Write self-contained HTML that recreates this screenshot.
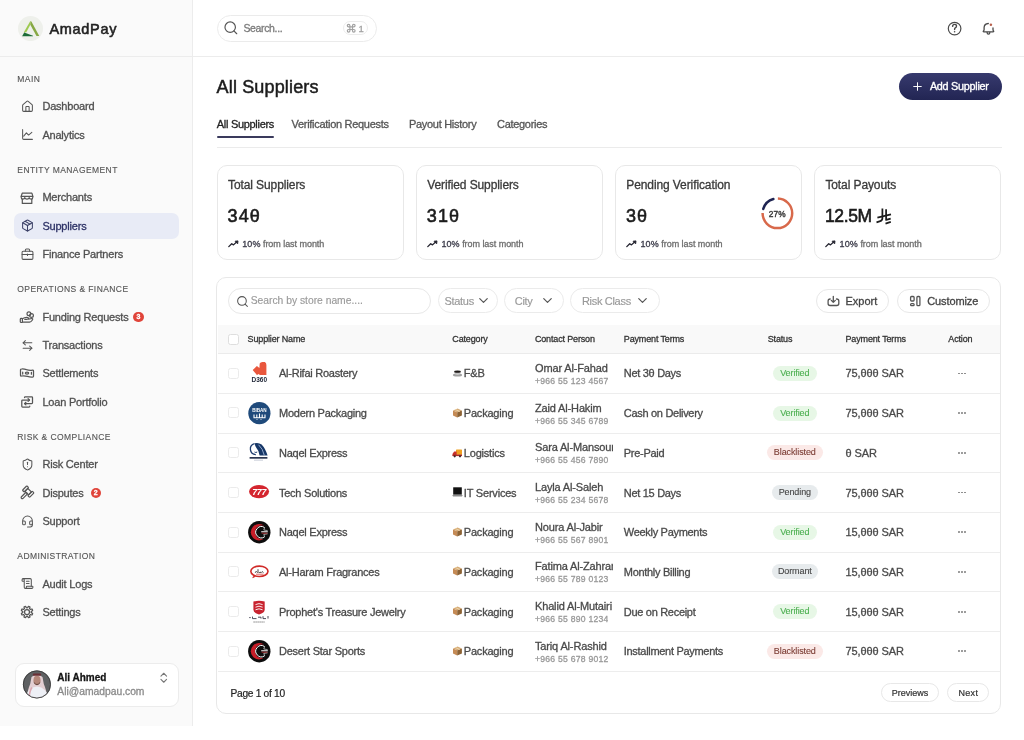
<!DOCTYPE html>
<html><head><meta charset="utf-8"><title>AmadPay - Suppliers</title>
<style>
html,body{margin:0;padding:0;width:1024px;height:740px;overflow:hidden;background:#fff;}
body{position:relative;font-family:"Liberation Sans", sans-serif;-webkit-font-smoothing:antialiased;}
#root div{-webkit-text-stroke-width:0.3px;}
</style></head><body><div id="root" style="position:absolute;left:0;top:0;width:1024px;height:740px;will-change:transform">
<div style="position:absolute;left:0px;top:0px;width:193px;height:726px;box-sizing:border-box;background:#fafafa;border-right:1px solid #ececec"></div><div style="position:absolute;left:0px;top:56px;width:1024px;height:1px;box-sizing:border-box;background:#ececec"></div><svg style="position:absolute;left:18px;top:15.5px" width="25" height="25" viewBox="0 0 25 25"><circle cx="12.5" cy="12.6" r="12.5" fill="#eef0eb"/><polygon points="12.2,5.2 13.4,5.6 21.3,20.1 18.5,20.1 12.3,8.8" fill="#86a843"/><polygon points="12.2,5.2 12.3,8.8 8.3,16.2 5.7,16.6" fill="#9dc94f"/><polygon points="4.1,20.2 6.2,16.4 15,19.8 15,20.2" fill="#1b6b36"/></svg><div style="position:absolute;left:49.4px;top:14.60px;font-size:14.5px;line-height:29.0px;font-weight:400;color:#222;letter-spacing:0.7px;white-space:nowrap;-webkit-text-stroke:0.55px #222;">AmadPay</div><div style="position:absolute;left:17.3px;top:70.80px;font-size:8.5px;line-height:17.0px;font-weight:400;color:#555;letter-spacing:0.42px;white-space:nowrap;-webkit-text-stroke-width:0.12px;">MAIN</div><svg style="position:absolute;left:20.5px;top:100.0px" width="13" height="13" viewBox="0 0 24 24" fill="none" stroke="#555" stroke-width="1.9" stroke-linecap="round" stroke-linejoin="round" ><path d="M15 21v-8a1 1 0 0 0-1-1h-4a1 1 0 0 0-1 1v8"/><path d="M3 10a2 2 0 0 1 .709-1.528l7-5.999a2 2 0 0 1 2.582 0l7 5.999A2 2 0 0 1 21 10v9a2 2 0 0 1-2 2H5a2 2 0 0 1-2-2z"/></svg><div style="position:absolute;left:42.4px;top:95.20px;font-size:11px;line-height:22px;font-weight:400;color:#505050;letter-spacing:-0.2px;white-space:nowrap;">Dashboard</div><svg style="position:absolute;left:20.5px;top:128.3px" width="13" height="13" viewBox="0 0 24 24" fill="none" stroke="#555" stroke-width="1.9" stroke-linecap="round" stroke-linejoin="round" ><path d="M3 3v16a2 2 0 0 0 2 2h16"/><path d="m5 15 5-6 4 4 6-5"/></svg><div style="position:absolute;left:42.4px;top:123.50px;font-size:11px;line-height:22px;font-weight:400;color:#505050;letter-spacing:-0.2px;white-space:nowrap;">Analytics</div><div style="position:absolute;left:17.3px;top:161.80px;font-size:8.5px;line-height:17.0px;font-weight:400;color:#555;letter-spacing:0.42px;white-space:nowrap;-webkit-text-stroke-width:0.12px;">ENTITY MANAGEMENT</div><svg style="position:absolute;left:17px;top:187.80px" width="20" height="20" viewBox="0 0 20 20" fill="none" stroke="#555" stroke-width="1.2" stroke-linejoin="round" stroke-linecap="round"><path d="M5.2 5.2H14.9L15.8 8.2V9.2Q15.8 11.2 14.2 11.2Q12.5 11.2 12.2 9.6Q11.8 11.2 10 11.2Q8.2 11.2 7.8 9.6Q7.5 11.2 5.8 11.2Q4.2 11.2 4.2 9.2V8.2Z"/><path d="M4.2 8.3H15.8"/><path d="M5.3 11V15.4H14.8V11"/></svg><div style="position:absolute;left:42.4px;top:186.30px;font-size:11px;line-height:22px;font-weight:400;color:#505050;letter-spacing:-0.2px;white-space:nowrap;">Merchants</div><div style="position:absolute;left:14px;top:212.9px;width:165px;height:26px;box-sizing:border-box;background:#e8ebf6;border-radius:7px"></div><svg style="position:absolute;left:20.5px;top:219.4px" width="13" height="13" viewBox="0 0 24 24" fill="none" stroke="#3a3f66" stroke-width="1.9" stroke-linecap="round" stroke-linejoin="round" ><path d="M11 21.73a2 2 0 0 0 2 0l7-4A2 2 0 0 0 21 16V8a2 2 0 0 0-1-1.73l-7-4a2 2 0 0 0-2 0l-7 4A2 2 0 0 0 3 8v8a2 2 0 0 0 1 1.73z"/><path d="M12 22V12"/><path d="m3.3 7 8.7 5 8.7-5"/><path d="m7.5 4.27 9 5.15"/></svg><div style="position:absolute;left:42.4px;top:214.60px;font-size:11px;line-height:22px;font-weight:400;color:#2d3266;letter-spacing:-0.2px;white-space:nowrap;">Suppliers</div><svg style="position:absolute;left:20.5px;top:247.8px" width="13" height="13" viewBox="0 0 24 24" fill="none" stroke="#555" stroke-width="1.9" stroke-linecap="round" stroke-linejoin="round" ><path d="M16 6V4a2 2 0 0 0-2-2h-4a2 2 0 0 0-2 2v2"/><rect width="20" height="15" x="2" y="6" rx="2"/><path d="M2 12h20"/><path d="M12 11v3"/></svg><div style="position:absolute;left:42.4px;top:243.00px;font-size:11px;line-height:22px;font-weight:400;color:#505050;letter-spacing:-0.2px;white-space:nowrap;">Finance Partners</div><div style="position:absolute;left:17.3px;top:281.00px;font-size:8.5px;line-height:17.0px;font-weight:400;color:#555;letter-spacing:0.42px;white-space:nowrap;-webkit-text-stroke-width:0.12px;">OPERATIONS &amp; FINANCE</div><svg style="position:absolute;left:17px;top:307.70px" width="20" height="20" viewBox="0 0 20 20" fill="none" stroke="#555" stroke-width="1.2" stroke-linejoin="round" stroke-linecap="round"><circle cx="11.9" cy="5.8" r="1.9"/><circle cx="14.5" cy="7.5" r="1.9"/><rect x="3.3" y="10.4" width="2.1" height="4.1" rx="0.8"/><path d="M5.4 10.8Q7.5 9.2 10 9.3Q11.5 9.4 11.6 10.4Q11.4 11.4 9.5 11.4H7.8"/><path d="M5.4 14.2H12.5Q14 14 15.4 12Q16.2 10.8 15 10.5L11.6 11.2"/></svg><div style="position:absolute;left:42.4px;top:305.70px;font-size:11px;line-height:22px;font-weight:400;color:#505050;letter-spacing:-0.2px;white-space:nowrap;">Funding Requests</div><div style="position:absolute;left:133.15px;top:311.75px;width:10.5px;height:10.5px;border-radius:50%;background:#e0443a;color:#fff;font-size:7px;line-height:10.5px;text-align:center;font-weight:700">3</div><svg style="position:absolute;left:20.5px;top:338.7px" width="13" height="13" viewBox="0 0 24 24" fill="none" stroke="#555" stroke-width="1.9" stroke-linecap="round" stroke-linejoin="round" ><path d="M8 3 4 7l4 4"/><path d="M4 7h16"/><path d="m16 21 4-4-4-4"/><path d="M20 17H4"/></svg><div style="position:absolute;left:42.4px;top:333.90px;font-size:11px;line-height:22px;font-weight:400;color:#505050;letter-spacing:-0.2px;white-space:nowrap;">Transactions</div><svg style="position:absolute;left:17px;top:363.30px" width="20" height="20" viewBox="0 0 20 20" fill="none" stroke="#555" stroke-width="1.25" stroke-linejoin="round" stroke-linecap="round"><path d="M3.5 6.8Q3.5 6 4.5 6Q7 5.8 9.5 6.7Q12.5 7.6 15.5 7.1Q16.5 7 16.5 7.9V13.2Q16.5 14 15.5 14.1Q13 14.3 10.5 13.4Q7.5 12.5 4.5 13Q3.5 13.1 3.5 12.3Z"/><ellipse cx="10" cy="10.1" rx="1.7" ry="1.1"/><path d="M5.7 9.2V11.1M14.4 9.3V11.2"/></svg><div style="position:absolute;left:42.4px;top:362.30px;font-size:11px;line-height:22px;font-weight:400;color:#505050;letter-spacing:-0.2px;white-space:nowrap;">Settlements</div><svg style="position:absolute;left:17px;top:392.00px" width="20" height="20" viewBox="0 0 20 20" fill="none" stroke="#555" stroke-width="1.25" stroke-linejoin="round" stroke-linecap="round"><path d="M7.5 5.6Q7.5 4.8 8.3 4.8H14.7Q15.5 4.8 15.5 5.6V10.8Q15.5 11.6 14.7 11.6H7.6"/><path d="M12.8 14.2Q12.8 15 12 15H5.6Q4.8 15 4.8 14.2V8.8Q4.8 8 5.6 8H12.4"/><path d="M11.1 6.7L12.5 8L11.1 9.3M8.9 10.3L7.5 11.6L8.9 12.9"/></svg><div style="position:absolute;left:42.4px;top:390.70px;font-size:11px;line-height:22px;font-weight:400;color:#505050;letter-spacing:-0.2px;white-space:nowrap;">Loan Portfolio</div><div style="position:absolute;left:17.3px;top:428.70px;font-size:8.5px;line-height:17.0px;font-weight:400;color:#555;letter-spacing:0.42px;white-space:nowrap;-webkit-text-stroke-width:0.12px;">RISK &amp; COMPLIANCE</div><svg style="position:absolute;left:20.5px;top:458.1px" width="13" height="13" viewBox="0 0 24 24" fill="none" stroke="#555" stroke-width="1.9" stroke-linecap="round" stroke-linejoin="round" ><path d="M20 13c0 5-3.5 7.5-7.66 8.95a1 1 0 0 1-.67-.01C7.5 20.5 4 18 4 13V6a1 1 0 0 1 1-1c2 0 4.5-1.2 6.24-2.72a1.17 1.17 0 0 1 1.52 0C14.51 3.81 17 5 19 5a1 1 0 0 1 1 1z"/><path d="M12 8v4"/><path d="M12 16h.01"/></svg><div style="position:absolute;left:42.4px;top:453.30px;font-size:11px;line-height:22px;font-weight:400;color:#505050;letter-spacing:-0.2px;white-space:nowrap;">Risk Center</div><svg style="position:absolute;left:17px;top:483.00px" width="20" height="20" viewBox="0 0 20 20" fill="none" stroke="#555" stroke-width="1.2" stroke-linejoin="round"><g transform="translate(11.2 8.6) rotate(45)"><rect x="-5.05" y="-3.15" width="2.5" height="6.3" rx="0.7"/><rect x="2.55" y="-3.15" width="2.5" height="6.3" rx="0.7"/><path d="M-2.55 -2H2.55V2H-2.55Z"/><rect x="-1.1" y="2" width="2.2" height="7.5" rx="1.1"/></g></svg><div style="position:absolute;left:42.4px;top:481.70px;font-size:11px;line-height:22px;font-weight:400;color:#505050;letter-spacing:-0.2px;white-space:nowrap;">Disputes</div><div style="position:absolute;left:90.55px;top:487.75px;width:10.5px;height:10.5px;border-radius:50%;background:#e0443a;color:#fff;font-size:7px;line-height:10.5px;text-align:center;font-weight:700">2</div><svg style="position:absolute;left:20.5px;top:514.8px" width="13" height="13" viewBox="0 0 24 24" fill="none" stroke="#555" stroke-width="1.9" stroke-linecap="round" stroke-linejoin="round" ><path d="M3 11h3a2 2 0 0 1 2 2v3a2 2 0 0 1-2 2H5a2 2 0 0 1-2-2v-5Zm0 0a9 9 0 1 1 18 0m0 0v5a2 2 0 0 1-2 2h-1a2 2 0 0 1-2-2v-3a2 2 0 0 1 2-2h3Z"/><path d="M21 16v2a4 4 0 0 1-4 4h-5"/></svg><div style="position:absolute;left:42.4px;top:510.00px;font-size:11px;line-height:22px;font-weight:400;color:#505050;letter-spacing:-0.2px;white-space:nowrap;">Support</div><div style="position:absolute;left:17.3px;top:547.90px;font-size:8.5px;line-height:17.0px;font-weight:400;color:#555;letter-spacing:0.42px;white-space:nowrap;-webkit-text-stroke-width:0.12px;">ADMINISTRATION</div><svg style="position:absolute;left:20.5px;top:577.3px" width="13" height="13" viewBox="0 0 24 24" fill="none" stroke="#555" stroke-width="1.9" stroke-linecap="round" stroke-linejoin="round" ><path d="M15 12h-5"/><path d="M15 8h-5"/><path d="M19 17V5a2 2 0 0 0-2-2H4"/><path d="M8 21h12a2 2 0 0 0 2-2v-1a1 1 0 0 0-1-1H11a1 1 0 0 0-1 1v1a2 2 0 1 1-4 0V5a2 2 0 1 0-4 0v2a1 1 0 0 0 1 1h3"/></svg><div style="position:absolute;left:42.4px;top:572.50px;font-size:11px;line-height:22px;font-weight:400;color:#505050;letter-spacing:-0.2px;white-space:nowrap;">Audit Logs</div><svg style="position:absolute;left:17px;top:601.90px" width="20" height="20" viewBox="0 0 20 20" fill="none" stroke="#555" stroke-width="1.25" stroke-linejoin="round"><path d="M10.00 5.75L10.13 5.75L10.27 5.76L10.40 5.76L10.54 5.75L10.69 5.64L10.91 5.21L11.20 4.62L11.44 4.41L11.63 4.40L11.81 4.44L11.98 4.50L12.15 4.56L12.32 4.63L12.49 4.71L12.65 4.79L12.81 4.89L12.94 5.03L12.95 5.35L12.74 5.97L12.59 6.43L12.63 6.61L12.71 6.72L12.81 6.81L12.91 6.90L13.01 6.99L13.10 7.09L13.19 7.19L13.28 7.29L13.39 7.37L13.57 7.41L14.03 7.26L14.65 7.05L14.97 7.06L15.11 7.19L15.21 7.35L15.29 7.51L15.37 7.68L15.44 7.85L15.50 8.02L15.56 8.19L15.60 8.37L15.59 8.56L15.38 8.80L14.79 9.09L14.36 9.31L14.25 9.46L14.24 9.60L14.24 9.73L14.25 9.87L14.25 10.00L14.25 10.13L14.24 10.27L14.24 10.40L14.25 10.54L14.36 10.69L14.79 10.91L15.38 11.20L15.59 11.44L15.60 11.63L15.56 11.81L15.50 11.98L15.44 12.15L15.37 12.32L15.29 12.49L15.21 12.65L15.11 12.81L14.97 12.94L14.65 12.95L14.03 12.74L13.57 12.59L13.39 12.63L13.28 12.71L13.19 12.81L13.10 12.91L13.01 13.01L12.91 13.10L12.81 13.19L12.71 13.28L12.63 13.39L12.59 13.57L12.74 14.03L12.95 14.65L12.94 14.97L12.81 15.11L12.65 15.21L12.49 15.29L12.32 15.37L12.15 15.44L11.98 15.50L11.81 15.56L11.63 15.60L11.44 15.59L11.20 15.38L10.91 14.79L10.69 14.36L10.54 14.25L10.40 14.24L10.27 14.24L10.13 14.25L10.00 14.25L9.87 14.25L9.73 14.24L9.60 14.24L9.46 14.25L9.31 14.36L9.09 14.79L8.80 15.38L8.56 15.59L8.37 15.60L8.19 15.56L8.02 15.50L7.85 15.44L7.68 15.37L7.51 15.29L7.35 15.21L7.19 15.11L7.06 14.97L7.05 14.65L7.26 14.03L7.41 13.57L7.37 13.39L7.29 13.28L7.19 13.19L7.09 13.10L6.99 13.01L6.90 12.91L6.81 12.81L6.72 12.71L6.61 12.63L6.43 12.59L5.97 12.74L5.35 12.95L5.03 12.94L4.89 12.81L4.79 12.65L4.71 12.49L4.63 12.32L4.56 12.15L4.50 11.98L4.44 11.81L4.40 11.63L4.41 11.44L4.62 11.20L5.21 10.91L5.64 10.69L5.75 10.54L5.76 10.40L5.76 10.27L5.75 10.13L5.75 10.00L5.75 9.87L5.76 9.73L5.76 9.60L5.75 9.46L5.64 9.31L5.21 9.09L4.62 8.80L4.41 8.56L4.40 8.37L4.44 8.19L4.50 8.02L4.56 7.85L4.63 7.68L4.71 7.51L4.79 7.35L4.89 7.19L5.03 7.06L5.35 7.05L5.97 7.26L6.43 7.41L6.61 7.37L6.72 7.29L6.81 7.19L6.90 7.09L6.99 6.99L7.09 6.90L7.19 6.81L7.29 6.72L7.37 6.61L7.41 6.43L7.26 5.97L7.05 5.35L7.06 5.03L7.19 4.89L7.35 4.79L7.51 4.71L7.68 4.63L7.85 4.56L8.02 4.50L8.19 4.44L8.37 4.40L8.56 4.41L8.80 4.62L9.09 5.21L9.31 5.64L9.46 5.75L9.60 5.76L9.73 5.76L9.87 5.75Z"/><circle cx="10" cy="10" r="2.5"/></svg><div style="position:absolute;left:42.4px;top:601.00px;font-size:11px;line-height:22px;font-weight:400;color:#505050;letter-spacing:-0.2px;white-space:nowrap;">Settings</div><div style="position:absolute;left:14.5px;top:662.5px;width:164px;height:44.5px;box-sizing:border-box;background:#fff;border:1px solid #ececec;border-radius:9px"></div><svg style="position:absolute;left:20px;top:668px" width="34" height="34" viewBox="0 0 34 34"><defs><clipPath id="av"><circle cx="16.9" cy="16.45" r="13.6"/></clipPath></defs><circle cx="16.9" cy="16.45" r="13.9" fill="#5f6163"/><g clip-path="url(#av)"><path d="M11.5 9Q17 4 22.5 9L23.8 16Q26 21 28 31L6 31Q8 21 10.2 16Z" fill="#e3cfd3"/><path d="M5 33Q6.5 19.5 17 18.5Q27.5 19.5 29 33Z" fill="#eef0f6"/><path d="M12 19.5Q9.5 23 9 30" stroke="#dba9b2" stroke-width="1.6" fill="none"/><ellipse cx="17" cy="12.2" rx="3.5" ry="4.4" fill="#b4877a"/><path d="M13.6 13.5Q17 18.5 20.4 13.5Q20 16.8 17 17.2Q14 16.8 13.6 13.5Z" fill="#6e4d45"/><rect x="12.8" y="5.6" width="8.4" height="2.2" rx="1.1" fill="#6a2f35"/></g><circle cx="16.9" cy="16.45" r="13.6" fill="none" stroke="#3b3b3b" stroke-width="0.9"/></svg><div style="position:absolute;left:57.3px;top:667.50px;font-size:10px;line-height:20px;font-weight:700;color:#151515;letter-spacing:0px;white-space:nowrap;">Ali Ahmed</div><div style="position:absolute;left:57.3px;top:681.90px;font-size:10.3px;line-height:20.6px;font-weight:400;color:#8a8a8a;letter-spacing:0px;white-space:nowrap;">Ali@amadpau.com</div><svg style="position:absolute;left:157.4px;top:671.3px" width="13.5" height="13.5" viewBox="0 0 24 24" fill="none" stroke="#777" stroke-width="1.9" stroke-linecap="round" stroke-linejoin="round" ><path d="m7 15 5 5 5-5"/><path d="m7 9 5-5 5 5"/></svg><div style="position:absolute;left:216.5px;top:15px;width:160.5px;height:27px;box-sizing:border-box;border:1px solid #ebebeb;border-radius:14px;background:#fff"></div><svg style="position:absolute;left:223.1px;top:20.3px" width="15.7" height="15.7" viewBox="0 0 24 24" fill="none" stroke="#555" stroke-width="1.8" stroke-linecap="round" stroke-linejoin="round" ><circle cx="11" cy="11" r="8"/><path d="m21 21-4.3-4.3"/></svg><div style="position:absolute;left:243.4px;top:18.00px;font-size:10.5px;line-height:21.0px;font-weight:400;color:#7a7a7a;letter-spacing:-0.35px;white-space:nowrap;">Search...</div><div style="position:absolute;left:343px;top:21.4px;width:24.5px;height:13.8px;box-sizing:border-box;border:1px solid #ececec;border-radius:7px;background:#fff"></div><svg style="position:absolute;left:345.9px;top:22.9px" width="10.4" height="10.4" viewBox="0 0 24 24" fill="none" stroke="#a2a2a2" stroke-width="2.7" stroke-linecap="round" stroke-linejoin="round"><path d="M15 6v12a3 3 0 1 0 3-3H6a3 3 0 1 0 3 3V6a3 3 0 1 0-3 3h12a3 3 0 1 0-3-3"/></svg><div style="position:absolute;left:358.6px;top:19.40px;font-size:9.5px;line-height:19.0px;font-weight:400;color:#a2a2a2;letter-spacing:0px;white-space:nowrap;">1</div><svg style="position:absolute;left:944px;top:18px" width="22" height="22" viewBox="944 18 22 22" fill="none" stroke="#4a4a4a" stroke-width="1.2" stroke-linecap="round" stroke-linejoin="round"><circle cx="954.6" cy="28.6" r="6.3"/><path d="M952.6 26.4Q952.7 24.4 954.6 24.4Q956.5 24.4 956.5 26.1Q956.5 27.3 955.3 27.9Q954.6 28.3 954.6 29.5" stroke-width="1.4"/><circle cx="954.6" cy="31.7" r="0.8" fill="#4a4a4a" stroke="none"/></svg><svg style="position:absolute;left:978px;top:18px" width="22" height="22" viewBox="0 0 22 22" fill="none" stroke="#4a4a4a" stroke-width="1.3" stroke-linecap="round" stroke-linejoin="round"><path d="M10.3 5.5Q6.3 5.7 6.1 9.5V11.4Q6.1 12.5 5.3 13.2Q5 13.8 5.8 13.8H15.1Q15.9 13.8 15.7 13.2Q15 12.5 15 11.4V10"/><path d="M9.1 14.4Q9.1 16.1 10.45 16.1Q11.8 16.1 11.8 14.4"/><circle cx="12.9" cy="6.7" r="1.25" fill="#b8604c" stroke="none"/></svg><div style="position:absolute;left:216.6px;top:69.00px;font-size:18px;line-height:36px;font-weight:400;color:#1c1c1c;letter-spacing:0.15px;white-space:nowrap;-webkit-text-stroke:0.5px #1c1c1c;">All Suppliers</div><div style="position:absolute;left:899.2px;top:73.2px;width:103px;height:26.7px;box-sizing:border-box;background:linear-gradient(#373a6e,#222553);border-radius:14px"></div><svg style="position:absolute;left:910.5px;top:80.2px" width="13" height="13" viewBox="0 0 24 24" fill="none" stroke="#fff" stroke-width="1.8" stroke-linecap="round" stroke-linejoin="round" ><path d="M5 12h14"/><path d="M12 5v14"/></svg><div style="position:absolute;left:929.9px;top:76.00px;font-size:10.8px;line-height:21.6px;font-weight:400;color:#ffffff;letter-spacing:-0.25px;white-space:nowrap;-webkit-text-stroke:0.35px #ffffff;">Add Supplier</div><div style="position:absolute;left:216.8px;top:112.60px;font-size:11px;line-height:22px;font-weight:400;color:#222;letter-spacing:-0.3px;white-space:nowrap;">All Suppliers</div><div style="position:absolute;left:291.6px;top:112.60px;font-size:11px;line-height:22px;font-weight:400;color:#555;letter-spacing:-0.3px;white-space:nowrap;">Verification Requests</div><div style="position:absolute;left:409px;top:112.60px;font-size:11px;line-height:22px;font-weight:400;color:#555;letter-spacing:-0.3px;white-space:nowrap;">Payout History</div><div style="position:absolute;left:497px;top:112.60px;font-size:11px;line-height:22px;font-weight:400;color:#555;letter-spacing:-0.3px;white-space:nowrap;">Categories</div><div style="position:absolute;left:216.8px;top:135.7px;width:57px;height:2px;box-sizing:border-box;background:#3a3a5c;border-radius:1px"></div><div style="position:absolute;left:216.5px;top:147px;width:785.5px;height:1px;box-sizing:border-box;background:#ebebeb"></div><div style="position:absolute;left:216.6px;top:165.2px;width:187.2px;height:95.3px;box-sizing:border-box;border:1px solid #e8e8e8;border-radius:10px;background:#fff"></div><div style="position:absolute;left:228.0px;top:173.00px;font-size:12px;line-height:24px;font-weight:400;color:#3a3a3a;letter-spacing:-0.1px;white-space:nowrap;">Total Suppliers</div><div style="position:absolute;left:227.6px;top:198.00px;font-size:18px;line-height:36px;font-weight:400;color:#1c1c1c;letter-spacing:1.1px;white-space:nowrap;-webkit-text-stroke:0.6px #1c1c1c;">34&#952;</div><svg style="position:absolute;left:227.80px;top:238px" width="12" height="10" viewBox="0 0 12 10" fill="none" stroke="#22222e" stroke-width="1.3" stroke-linecap="round" stroke-linejoin="round"><path d="M0.8 8.6L3.7 5.7L5.5 6.9L8.6 4"/><path d="M7.4 3.2L10 2.9L9.7 5.5Z" fill="#22222e" stroke-width="0.9"/></svg><div style="position:absolute;left:242.2px;top:235.00px;font-size:9px;line-height:18px;font-weight:400;color:#444;letter-spacing:-0.05px;white-space:nowrap;"><span style="color:#3a3a48;-webkit-text-stroke:0.3px #3a3a48;letter-spacing:0.1px">10%</span> <span style="color:#6e6e6e">from last month</span></div><div style="position:absolute;left:415.8px;top:165.2px;width:187.2px;height:95.3px;box-sizing:border-box;border:1px solid #e8e8e8;border-radius:10px;background:#fff"></div><div style="position:absolute;left:427.2px;top:173.00px;font-size:12px;line-height:24px;font-weight:400;color:#3a3a3a;letter-spacing:-0.1px;white-space:nowrap;">Verified Suppliers</div><div style="position:absolute;left:426.8px;top:198.00px;font-size:18px;line-height:36px;font-weight:400;color:#1c1c1c;letter-spacing:1.1px;white-space:nowrap;-webkit-text-stroke:0.6px #1c1c1c;">31&#952;</div><svg style="position:absolute;left:427.00px;top:238px" width="12" height="10" viewBox="0 0 12 10" fill="none" stroke="#22222e" stroke-width="1.3" stroke-linecap="round" stroke-linejoin="round"><path d="M0.8 8.6L3.7 5.7L5.5 6.9L8.6 4"/><path d="M7.4 3.2L10 2.9L9.7 5.5Z" fill="#22222e" stroke-width="0.9"/></svg><div style="position:absolute;left:441.40000000000003px;top:235.00px;font-size:9px;line-height:18px;font-weight:400;color:#444;letter-spacing:-0.05px;white-space:nowrap;"><span style="color:#3a3a48;-webkit-text-stroke:0.3px #3a3a48;letter-spacing:0.1px">10%</span> <span style="color:#6e6e6e">from last month</span></div><div style="position:absolute;left:614.9px;top:165.2px;width:187.2px;height:95.3px;box-sizing:border-box;border:1px solid #e8e8e8;border-radius:10px;background:#fff"></div><div style="position:absolute;left:626.3px;top:173.00px;font-size:12px;line-height:24px;font-weight:400;color:#3a3a3a;letter-spacing:-0.1px;white-space:nowrap;">Pending Verification</div><div style="position:absolute;left:625.9px;top:198.00px;font-size:18px;line-height:36px;font-weight:400;color:#1c1c1c;letter-spacing:1.1px;white-space:nowrap;-webkit-text-stroke:0.6px #1c1c1c;">3&#952;</div><svg style="position:absolute;left:626.10px;top:238px" width="12" height="10" viewBox="0 0 12 10" fill="none" stroke="#22222e" stroke-width="1.3" stroke-linecap="round" stroke-linejoin="round"><path d="M0.8 8.6L3.7 5.7L5.5 6.9L8.6 4"/><path d="M7.4 3.2L10 2.9L9.7 5.5Z" fill="#22222e" stroke-width="0.9"/></svg><div style="position:absolute;left:640.5px;top:235.00px;font-size:9px;line-height:18px;font-weight:400;color:#444;letter-spacing:-0.05px;white-space:nowrap;"><span style="color:#3a3a48;-webkit-text-stroke:0.3px #3a3a48;letter-spacing:0.1px">10%</span> <span style="color:#6e6e6e">from last month</span></div><div style="position:absolute;left:814px;top:165.2px;width:187.2px;height:95.3px;box-sizing:border-box;border:1px solid #e8e8e8;border-radius:10px;background:#fff"></div><div style="position:absolute;left:825.4px;top:173.00px;font-size:12px;line-height:24px;font-weight:400;color:#3a3a3a;letter-spacing:-0.1px;white-space:nowrap;">Total Payouts</div><div style="position:absolute;left:825.0px;top:198.50px;font-size:17.5px;line-height:35.0px;font-weight:400;color:#1c1c1c;letter-spacing:-0.4px;white-space:nowrap;-webkit-text-stroke:0.6px #1c1c1c;">12.5M</div><svg style="position:absolute;left:825.20px;top:238px" width="12" height="10" viewBox="0 0 12 10" fill="none" stroke="#22222e" stroke-width="1.3" stroke-linecap="round" stroke-linejoin="round"><path d="M0.8 8.6L3.7 5.7L5.5 6.9L8.6 4"/><path d="M7.4 3.2L10 2.9L9.7 5.5Z" fill="#22222e" stroke-width="0.9"/></svg><div style="position:absolute;left:839.6px;top:235.00px;font-size:9px;line-height:18px;font-weight:400;color:#444;letter-spacing:-0.05px;white-space:nowrap;"><span style="color:#3a3a48;-webkit-text-stroke:0.3px #3a3a48;letter-spacing:0.1px">10%</span> <span style="color:#6e6e6e">from last month</span></div><svg style="position:absolute;left:760px;top:196px" width="35" height="35" viewBox="0 0 35 35"><circle cx="17.4" cy="17.3" r="14.8" fill="none" stroke="#d8694b" stroke-width="2.5" stroke-dasharray="69.2 200" stroke-dashoffset="-0.5" transform="rotate(-90 17.4 17.3)"/><circle cx="17.4" cy="17.3" r="14.8" fill="none" stroke="#1f2452" stroke-width="2.5" stroke-linecap="round" stroke-dasharray="14.6 200" stroke-dashoffset="-73.7" transform="rotate(-90 17.4 17.3)"/></svg><div style="position:absolute;left:768.8px;top:205.70px;font-size:8.3px;line-height:16.6px;font-weight:400;color:#3a3a3a;letter-spacing:0.15px;white-space:nowrap;-webkit-text-stroke:0.4px #3a3a3a;">27%</div><svg style="position:absolute;left:872px;top:204px" width="24" height="24" viewBox="0 0 24 24" fill="none" stroke="#1c1c1c" stroke-width="1.75" stroke-linecap="butt" stroke-linejoin="round"><path d="M10.4 4.4V14.2Q10.4 16.4 8.2 17.1L4.5 18.3"/><path d="M5.4 13.6L19 10.4"/><path d="M14.1 5.2V15.9L18.7 14.6"/><path d="M13.5 19.6L18.8 17.9"/></svg><div style="position:absolute;left:216.2px;top:277.2px;width:784.8px;height:436.6px;box-sizing:border-box;border:1px solid #e8e8e8;border-radius:10px;background:#fff"></div><div style="position:absolute;left:228px;top:288.4px;width:203px;height:25.3px;box-sizing:border-box;border:1px solid #e8e8e8;border-radius:13px"></div><svg style="position:absolute;left:236px;top:294.5px" width="13" height="13" viewBox="0 0 24 24" fill="none" stroke="#555" stroke-width="1.9" stroke-linecap="round" stroke-linejoin="round" ><circle cx="11" cy="11" r="8"/><path d="m21 21-4.3-4.3"/></svg><div style="position:absolute;left:250.7px;top:290.70px;font-size:10.3px;line-height:20.6px;font-weight:400;color:#9a9a9a;letter-spacing:0px;white-space:nowrap;-webkit-text-stroke-width:0.15px;">Search by store name....</div><div style="position:absolute;left:437.5px;top:288.2px;width:60px;height:25.1px;box-sizing:border-box;border:1px solid #ebebeb;border-radius:13px"></div><div style="position:absolute;left:444.5px;top:290.00px;font-size:11px;line-height:22px;font-weight:400;color:#999;letter-spacing:-0.3px;white-space:nowrap;-webkit-text-stroke-width:0.15px;">Status</div><svg style="position:absolute;left:476.09999999999997px;top:293.3px" width="15" height="15" viewBox="0 0 24 24" fill="none" stroke="#555" stroke-width="1.9" stroke-linecap="round" stroke-linejoin="round" ><path d="m6 9 6 6 6-6"/></svg><div style="position:absolute;left:503.8px;top:288.2px;width:60.5px;height:25.1px;box-sizing:border-box;border:1px solid #ebebeb;border-radius:13px"></div><div style="position:absolute;left:514.8px;top:290.00px;font-size:11px;line-height:22px;font-weight:400;color:#999;letter-spacing:-0.3px;white-space:nowrap;-webkit-text-stroke-width:0.15px;">City</div><svg style="position:absolute;left:540.1px;top:293.3px" width="15" height="15" viewBox="0 0 24 24" fill="none" stroke="#555" stroke-width="1.9" stroke-linecap="round" stroke-linejoin="round" ><path d="m6 9 6 6 6-6"/></svg><div style="position:absolute;left:570.1px;top:288.2px;width:90px;height:25.1px;box-sizing:border-box;border:1px solid #ebebeb;border-radius:13px"></div><div style="position:absolute;left:581.9px;top:290.00px;font-size:11px;line-height:22px;font-weight:400;color:#999;letter-spacing:-0.3px;white-space:nowrap;-webkit-text-stroke-width:0.15px;">Risk Class</div><svg style="position:absolute;left:635.4px;top:293.3px" width="15" height="15" viewBox="0 0 24 24" fill="none" stroke="#555" stroke-width="1.9" stroke-linecap="round" stroke-linejoin="round" ><path d="m6 9 6 6 6-6"/></svg><div style="position:absolute;left:816px;top:288.6px;width:72.6px;height:24.6px;box-sizing:border-box;border:1px solid #e8e8e8;border-radius:13px"></div><svg style="position:absolute;left:822px;top:290px" width="24" height="22" viewBox="0 0 24 22" fill="none" stroke="#555" stroke-width="1.3" stroke-linecap="round" stroke-linejoin="round"><path d="M8.2 9Q6.1 9 6.1 11V13.5Q6.1 15.5 8.1 15.5H14.8Q16.8 15.5 16.8 13.5V11Q16.8 9 14.5 9"/><path d="M11.3 6.3V12.3M9.3 10.4L11.3 12.4L13.3 10.4"/></svg><div style="position:absolute;left:845.5px;top:290.00px;font-size:11px;line-height:22px;font-weight:400;color:#444;letter-spacing:0px;white-space:nowrap;">Export</div><div style="position:absolute;left:897.4px;top:288.6px;width:92.3px;height:24.6px;box-sizing:border-box;border:1px solid #e8e8e8;border-radius:13px"></div><svg style="position:absolute;left:904px;top:290px" width="24" height="22" viewBox="0 0 24 22" fill="none" stroke="#555" stroke-width="1.3" stroke-linecap="round" stroke-linejoin="round"><rect x="6.6" y="6.5" width="3.5" height="4.5" rx="0.9"/><rect x="6.6" y="13.6" width="3.5" height="2" rx="0.9"/><rect x="12.9" y="6.5" width="3" height="9.1" rx="0.9"/></svg><div style="position:absolute;left:927.2px;top:290.00px;font-size:11px;line-height:22px;font-weight:400;color:#444;letter-spacing:-0.1px;white-space:nowrap;">Customize</div><div style="position:absolute;left:217.7px;top:325.4px;width:782.3px;height:28.2px;box-sizing:border-box;background:#f9f9f9;border-bottom:1px solid #ebebeb"></div><div style="position:absolute;left:228px;top:334px;width:11px;height:11px;box-sizing:border-box;border:1px solid #dedede;border-radius:2.5px;background:#fff"></div><div style="position:absolute;left:247.6px;top:330.20px;font-size:9px;line-height:18px;font-weight:400;color:#333;letter-spacing:-0.15px;white-space:nowrap;-webkit-text-stroke:0.28px #333;">Supplier Name</div><div style="position:absolute;left:452.3px;top:330.20px;font-size:9px;line-height:18px;font-weight:400;color:#333;letter-spacing:-0.15px;white-space:nowrap;-webkit-text-stroke:0.28px #333;">Category</div><div style="position:absolute;left:534.9px;top:330.20px;font-size:9px;line-height:18px;font-weight:400;color:#333;letter-spacing:-0.15px;white-space:nowrap;-webkit-text-stroke:0.28px #333;">Contact Person</div><div style="position:absolute;left:623.8px;top:330.20px;font-size:9px;line-height:18px;font-weight:400;color:#333;letter-spacing:-0.15px;white-space:nowrap;-webkit-text-stroke:0.28px #333;">Payment Terms</div><div style="position:absolute;left:767.7px;top:330.20px;font-size:9px;line-height:18px;font-weight:400;color:#333;letter-spacing:-0.15px;white-space:nowrap;-webkit-text-stroke:0.28px #333;">Status</div><div style="position:absolute;left:845.5px;top:330.20px;font-size:9px;line-height:18px;font-weight:400;color:#333;letter-spacing:-0.15px;white-space:nowrap;-webkit-text-stroke:0.28px #333;">Payment Terms</div><div style="position:absolute;left:948.3px;top:330.20px;font-size:9px;line-height:18px;font-weight:400;color:#333;letter-spacing:-0.15px;white-space:nowrap;-webkit-text-stroke:0.28px #333;">Action</div><div style="position:absolute;left:217.7px;top:392.90000000000003px;width:782.3px;height:1px;box-sizing:border-box;background:#ededed"></div><div style="position:absolute;left:227.5px;top:367.75000000000006px;width:11px;height:11px;box-sizing:border-box;border:1px solid #ebebeb;border-radius:2.5px;background:#fff"></div><svg style="position:absolute;left:247.6px;top:361.45000000000005px" width="23" height="24" viewBox="0 0 23 24"><path d="M4.7 9.05L8.9 5.05L11.4 7.05L11.7 2.55Q12.4 1.05 14.4 1.05L16.9 1.05Q18.4 2.05 18.4 4.05L18.4 14.05L11.7 14.05L10.9 13.05L8.9 14.05Z" fill="#e9573d"/><text x="11.3" y="21.1" font-family="Liberation Sans" font-weight="700" font-size="6.5" fill="#232a3a" text-anchor="middle" letter-spacing="0">D360</text></svg><div style="position:absolute;left:279px;top:362.45px;font-size:11px;line-height:22px;font-weight:400;color:#4a4a4a;letter-spacing:-0.25px;white-space:nowrap;">Al-Rifai Roastery</div><svg style="position:absolute;left:451.5px;top:369.25px" width="11" height="8" viewBox="0 0 11 8"><ellipse cx="5.5" cy="5.9" rx="4.6" ry="1.5" fill="#a0a0a0"/><path d="M2.2 2.8H8.8Q8.8 6 5.5 6.1Q2.2 6 2.2 2.8Z" fill="#c4c4c4"/><ellipse cx="5.5" cy="2.7" rx="3.3" ry="1.1" fill="#1e1a18"/></svg><div style="position:absolute;left:463.8px;top:362.45px;font-size:11px;line-height:22px;font-weight:400;color:#4a4a4a;letter-spacing:-0.2px;white-space:nowrap;">F&amp;B</div><div style="position:absolute;left:535px;top:356.95px;font-size:11px;line-height:22px;font-weight:400;color:#4a4a4a;letter-spacing:-0.15px;white-space:nowrap;width:78px;overflow:hidden">Omar Al-Fahad</div><div style="position:absolute;left:535px;top:372.85px;font-size:8.6px;line-height:17.2px;font-weight:400;color:#999;letter-spacing:0.25px;white-space:nowrap;width:73px;overflow:hidden">+966 55 123 4567</div><div style="position:absolute;left:623.8px;top:362.45px;font-size:11px;line-height:22px;font-weight:400;color:#4a4a4a;letter-spacing:-0.3px;white-space:nowrap;">Net 3&#952; Days</div><div style="position:absolute;left:773.05px;top:365.95000000000005px;width:43.5px;height:15px;border-radius:8px;background:#e7f7e6;color:#4caf50;font-size:9px;line-height:15px;text-align:center;letter-spacing:-0.1px;-webkit-text-stroke-width:0.1px">Verified</div><div style="position:absolute;left:845.5px;top:362.45px;font-size:11px;line-height:22px;font-weight:400;color:#4a4a4a;letter-spacing:-0.1px;white-space:nowrap;">75,&#952;&#952;&#952; SAR</div><div style="position:absolute;left:958.40px;top:372.55px;width:1.8px;height:1.8px;border-radius:50%;background:#808080"></div><div style="position:absolute;left:961.30px;top:372.55px;width:1.8px;height:1.8px;border-radius:50%;background:#808080"></div><div style="position:absolute;left:964.20px;top:372.55px;width:1.8px;height:1.8px;border-radius:50%;background:#808080"></div><div style="position:absolute;left:217.7px;top:432.6px;width:782.3px;height:1px;box-sizing:border-box;background:#ededed"></div><div style="position:absolute;left:227.5px;top:407.45000000000005px;width:11px;height:11px;box-sizing:border-box;border:1px solid #ebebeb;border-radius:2.5px;background:#fff"></div><svg style="position:absolute;left:247.6px;top:401.85px" width="23" height="23" viewBox="0 0 23 23"><circle cx="11.4" cy="11.2" r="11.1" fill="#1f4a7b"/><text x="11.4" y="9.6" font-family="Liberation Sans" font-weight="700" font-size="4.6" fill="#fff" text-anchor="middle">BIBAN</text><path d="M6 12.5v3.2h11v-3.2M8.8 12.5v3.2M11.5 11.5v4.2M14.2 12.5v3.2" stroke="#fff" stroke-width="1.1" fill="none"/><circle cx="9" cy="17.5" r="0.5" fill="#fff"/><circle cx="13" cy="17.5" r="0.5" fill="#fff"/></svg><div style="position:absolute;left:279px;top:402.15px;font-size:11px;line-height:22px;font-weight:400;color:#4a4a4a;letter-spacing:-0.25px;white-space:nowrap;">Modern Packaging</div><svg style="position:absolute;left:451.5px;top:407.55px" width="11" height="10" viewBox="0 0 11 10"><path d="M1 2.5L5.2 4.3V9.4L1 7.6Z" fill="#c48a55"/><path d="M5.2 4.3L9.9 2.5V7.6L5.2 9.4Z" fill="#8c6234"/><path d="M1 2.5L5.6 0.6L9.9 2.5L5.2 4.3Z" fill="#d6ab76"/><path d="M3.2 1.5L7.7 3.4" stroke="#efd9b0" stroke-width="0.9"/></svg><div style="position:absolute;left:463.8px;top:402.15px;font-size:11px;line-height:22px;font-weight:400;color:#4a4a4a;letter-spacing:-0.2px;white-space:nowrap;">Packaging</div><div style="position:absolute;left:535px;top:396.65px;font-size:11px;line-height:22px;font-weight:400;color:#4a4a4a;letter-spacing:-0.15px;white-space:nowrap;width:78px;overflow:hidden">Zaid Al-Hakim</div><div style="position:absolute;left:535px;top:412.55px;font-size:8.6px;line-height:17.2px;font-weight:400;color:#999;letter-spacing:0.25px;white-space:nowrap;width:73px;overflow:hidden">+966 55 345 6789</div><div style="position:absolute;left:623.8px;top:402.15px;font-size:11px;line-height:22px;font-weight:400;color:#4a4a4a;letter-spacing:-0.3px;white-space:nowrap;">Cash on Delivery</div><div style="position:absolute;left:773.05px;top:405.65000000000003px;width:43.5px;height:15px;border-radius:8px;background:#e7f7e6;color:#4caf50;font-size:9px;line-height:15px;text-align:center;letter-spacing:-0.1px;-webkit-text-stroke-width:0.1px">Verified</div><div style="position:absolute;left:845.5px;top:402.15px;font-size:11px;line-height:22px;font-weight:400;color:#4a4a4a;letter-spacing:-0.1px;white-space:nowrap;">75,&#952;&#952;&#952; SAR</div><div style="position:absolute;left:958.40px;top:412.25px;width:1.8px;height:1.8px;border-radius:50%;background:#808080"></div><div style="position:absolute;left:961.30px;top:412.25px;width:1.8px;height:1.8px;border-radius:50%;background:#808080"></div><div style="position:absolute;left:964.20px;top:412.25px;width:1.8px;height:1.8px;border-radius:50%;background:#808080"></div><div style="position:absolute;left:217.7px;top:472.3px;width:782.3px;height:1px;box-sizing:border-box;background:#ededed"></div><div style="position:absolute;left:227.5px;top:447.15000000000003px;width:11px;height:11px;box-sizing:border-box;border:1px solid #ebebeb;border-radius:2.5px;background:#fff"></div><svg style="position:absolute;left:246.00px;top:440.00px" width="26" height="22" viewBox="0 0 26 22"><path d="M8.5 3.6A5.6 5.6 0 0 0 9.8 14.6" stroke="#1d3b6e" stroke-width="1.3" fill="none"/><path d="M8.6 3.2Q12.5 2.2 15.6 4.4Q19.6 8.5 21.6 15.6H13.6Q13 10.5 10.6 8.2Q9.2 6.8 8.6 3.2Z" fill="#173767"/><path d="M12.6 4.8Q16.8 8.5 18.4 15.6" stroke="#9fb6da" stroke-width="0.9" fill="none"/><path d="M8.5 12Q9.8 13 11.2 12" stroke="#1d3b6e" stroke-width="1" fill="none"/><rect x="3.6" y="17" width="17.8" height="1.7" fill="#2a3550"/><rect x="8" y="19.8" width="9" height="0.6" fill="#a8afc0"/></svg><div style="position:absolute;left:279px;top:441.85px;font-size:11px;line-height:22px;font-weight:400;color:#4a4a4a;letter-spacing:-0.25px;white-space:nowrap;">Naqel Express</div><svg style="position:absolute;left:451.5px;top:448.55px" width="11" height="9" viewBox="0 0 11 9"><rect x="4" y="0.4" width="6" height="5.4" rx="0.6" fill="#f0a020"/><path d="M0.6 4.8L2.2 2.5H4.6V7H0.6Z" fill="#c8302a"/><rect x="0.6" y="5.5" width="9.4" height="1.6" fill="#b02a24"/><circle cx="2.7" cy="7.3" r="1.1" fill="#3a2a2a"/><circle cx="8" cy="7.3" r="1.1" fill="#3a2a2a"/></svg><div style="position:absolute;left:463.8px;top:441.85px;font-size:11px;line-height:22px;font-weight:400;color:#4a4a4a;letter-spacing:-0.2px;white-space:nowrap;">Logistics</div><div style="position:absolute;left:535px;top:436.35px;font-size:11px;line-height:22px;font-weight:400;color:#4a4a4a;letter-spacing:-0.15px;white-space:nowrap;width:78px;overflow:hidden">Sara Al-Mansour</div><div style="position:absolute;left:535px;top:452.25px;font-size:8.6px;line-height:17.2px;font-weight:400;color:#999;letter-spacing:0.25px;white-space:nowrap;width:73px;overflow:hidden">+966 55 456 7890</div><div style="position:absolute;left:623.8px;top:441.85px;font-size:11px;line-height:22px;font-weight:400;color:#4a4a4a;letter-spacing:-0.3px;white-space:nowrap;">Pre-Paid</div><div style="position:absolute;left:766.8px;top:445.35px;width:56px;height:15px;border-radius:8px;background:#fbe9e7;color:#7a3b32;font-size:9px;line-height:15px;text-align:center;letter-spacing:-0.1px;-webkit-text-stroke-width:0.1px">Blacklisted</div><div style="position:absolute;left:845.5px;top:441.85px;font-size:11px;line-height:22px;font-weight:400;color:#4a4a4a;letter-spacing:-0.1px;white-space:nowrap;">&#952; SAR</div><div style="position:absolute;left:958.40px;top:451.95px;width:1.8px;height:1.8px;border-radius:50%;background:#808080"></div><div style="position:absolute;left:961.30px;top:451.95px;width:1.8px;height:1.8px;border-radius:50%;background:#808080"></div><div style="position:absolute;left:964.20px;top:451.95px;width:1.8px;height:1.8px;border-radius:50%;background:#808080"></div><div style="position:absolute;left:217.7px;top:512.0000000000001px;width:782.3px;height:1px;box-sizing:border-box;background:#ededed"></div><div style="position:absolute;left:227.5px;top:486.8500000000001px;width:11px;height:11px;box-sizing:border-box;border:1px solid #ebebeb;border-radius:2.5px;background:#fff"></div><svg style="position:absolute;left:247.6px;top:485.25000000000006px" width="22" height="14" viewBox="0 0 22 14"><ellipse cx="11.05" cy="6.6" rx="10.05" ry="6.6" fill="#d4262f"/><text x="11.2" y="9.9" font-family="Liberation Sans" font-weight="700" font-size="8.8" fill="#fff" text-anchor="middle" font-style="italic" letter-spacing="-0.2">777</text></svg><div style="position:absolute;left:279px;top:481.55px;font-size:11px;line-height:22px;font-weight:400;color:#4a4a4a;letter-spacing:-0.25px;white-space:nowrap;">Tech Solutions</div><svg style="position:absolute;left:451.5px;top:486.95px" width="11" height="10" viewBox="0 0 11 10"><rect x="1.2" y="0.3" width="8.6" height="6.8" fill="#111"/><rect x="1.2" y="7.1" width="8.6" height="1" fill="#555"/><path d="M0.3 8.1H10.7L10 9.4H1Z" fill="#8a8a8a"/></svg><div style="position:absolute;left:463.8px;top:481.55px;font-size:11px;line-height:22px;font-weight:400;color:#4a4a4a;letter-spacing:-0.2px;white-space:nowrap;">IT Services</div><div style="position:absolute;left:535px;top:476.05px;font-size:11px;line-height:22px;font-weight:400;color:#4a4a4a;letter-spacing:-0.15px;white-space:nowrap;width:78px;overflow:hidden">Layla Al-Saleh</div><div style="position:absolute;left:535px;top:491.95px;font-size:8.6px;line-height:17.2px;font-weight:400;color:#999;letter-spacing:0.25px;white-space:nowrap;width:73px;overflow:hidden">+966 55 234 5678</div><div style="position:absolute;left:623.8px;top:481.55px;font-size:11px;line-height:22px;font-weight:400;color:#4a4a4a;letter-spacing:-0.3px;white-space:nowrap;">Net 15 Days</div><div style="position:absolute;left:771.8px;top:485.05000000000007px;width:46px;height:15px;border-radius:8px;background:#e7ebed;color:#444;font-size:9px;line-height:15px;text-align:center;letter-spacing:-0.1px;-webkit-text-stroke-width:0.1px">Pending</div><div style="position:absolute;left:845.5px;top:481.55px;font-size:11px;line-height:22px;font-weight:400;color:#4a4a4a;letter-spacing:-0.1px;white-space:nowrap;">75,&#952;&#952;&#952; SAR</div><div style="position:absolute;left:958.40px;top:491.65px;width:1.8px;height:1.8px;border-radius:50%;background:#808080"></div><div style="position:absolute;left:961.30px;top:491.65px;width:1.8px;height:1.8px;border-radius:50%;background:#808080"></div><div style="position:absolute;left:964.20px;top:491.65px;width:1.8px;height:1.8px;border-radius:50%;background:#808080"></div><div style="position:absolute;left:217.7px;top:551.7000000000002px;width:782.3px;height:1px;box-sizing:border-box;background:#ededed"></div><div style="position:absolute;left:227.5px;top:526.5500000000001px;width:11px;height:11px;box-sizing:border-box;border:1px solid #ebebeb;border-radius:2.5px;background:#fff"></div><svg style="position:absolute;left:247.6px;top:521.2500000000001px" width="23" height="23" viewBox="0 0 23 23"><circle cx="11.3" cy="11.2" r="11.2" fill="#0d0d0d"/><circle cx="11" cy="11.2" r="8.2" fill="#c81e28"/><circle cx="14.2" cy="11.2" r="7" fill="#0d0d0d"/><path d="M16.6 6.6 A5.6 5.6 0 1 0 16.6 15.8" stroke="#fff" stroke-width="1" fill="none"/><path d="M16.6 6.6 L15.8 9 L19.6 9.6 M16.6 15.8 L15.8 13.4 L19.6 12.8" stroke="#fff" stroke-width="0.6" fill="none"/><rect x="13.2" y="10.2" width="6.6" height="1.1" fill="#e8e8e8"/><rect x="13.6" y="11.8" width="5.8" height="0.7" fill="#d03030"/></svg><div style="position:absolute;left:279px;top:521.25px;font-size:11px;line-height:22px;font-weight:400;color:#4a4a4a;letter-spacing:-0.25px;white-space:nowrap;">Naqel Express</div><svg style="position:absolute;left:451.5px;top:526.65px" width="11" height="10" viewBox="0 0 11 10"><path d="M1 2.5L5.2 4.3V9.4L1 7.6Z" fill="#c48a55"/><path d="M5.2 4.3L9.9 2.5V7.6L5.2 9.4Z" fill="#8c6234"/><path d="M1 2.5L5.6 0.6L9.9 2.5L5.2 4.3Z" fill="#d6ab76"/><path d="M3.2 1.5L7.7 3.4" stroke="#efd9b0" stroke-width="0.9"/></svg><div style="position:absolute;left:463.8px;top:521.25px;font-size:11px;line-height:22px;font-weight:400;color:#4a4a4a;letter-spacing:-0.2px;white-space:nowrap;">Packaging</div><div style="position:absolute;left:535px;top:515.75px;font-size:11px;line-height:22px;font-weight:400;color:#4a4a4a;letter-spacing:-0.15px;white-space:nowrap;width:78px;overflow:hidden">Noura Al-Jabir</div><div style="position:absolute;left:535px;top:531.65px;font-size:8.6px;line-height:17.2px;font-weight:400;color:#999;letter-spacing:0.25px;white-space:nowrap;width:73px;overflow:hidden">+966 55 567 8901</div><div style="position:absolute;left:623.8px;top:521.25px;font-size:11px;line-height:22px;font-weight:400;color:#4a4a4a;letter-spacing:-0.3px;white-space:nowrap;">Weekly Payments</div><div style="position:absolute;left:773.05px;top:524.7500000000001px;width:43.5px;height:15px;border-radius:8px;background:#e7f7e6;color:#4caf50;font-size:9px;line-height:15px;text-align:center;letter-spacing:-0.1px;-webkit-text-stroke-width:0.1px">Verified</div><div style="position:absolute;left:845.5px;top:521.25px;font-size:11px;line-height:22px;font-weight:400;color:#4a4a4a;letter-spacing:-0.1px;white-space:nowrap;">15,&#952;&#952;&#952; SAR</div><div style="position:absolute;left:958.40px;top:531.35px;width:1.8px;height:1.8px;border-radius:50%;background:#808080"></div><div style="position:absolute;left:961.30px;top:531.35px;width:1.8px;height:1.8px;border-radius:50%;background:#808080"></div><div style="position:absolute;left:964.20px;top:531.35px;width:1.8px;height:1.8px;border-radius:50%;background:#808080"></div><div style="position:absolute;left:217.7px;top:591.4000000000001px;width:782.3px;height:1px;box-sizing:border-box;background:#ededed"></div><div style="position:absolute;left:227.5px;top:566.25px;width:11px;height:11px;box-sizing:border-box;border:1px solid #ebebeb;border-radius:2.5px;background:#fff"></div><svg style="position:absolute;left:247.6px;top:565.35px" width="23" height="14" viewBox="0 0 23 14"><ellipse cx="11.4" cy="6.3" rx="8.6" ry="5.2" fill="#fff" stroke="#d02a28" stroke-width="1.6"/><path d="M5.5 11 Q4 12.5 4.5 13.2 Q7 12 8 11.2" fill="#d02a28"/><path d="M7.2 7.8 Q8 5 9.3 7.5 M10 8 V4.2 M11.3 8 Q12 6 13 7.8 Q14 5.5 15.5 7.6" stroke="#3a2f2f" stroke-width="0.9" fill="none"/><path d="M8 9.2 H15.5" stroke="#d02a28" stroke-width="0.7"/></svg><div style="position:absolute;left:279px;top:560.95px;font-size:11px;line-height:22px;font-weight:400;color:#4a4a4a;letter-spacing:-0.25px;white-space:nowrap;">Al-Haram Fragrances</div><svg style="position:absolute;left:451.5px;top:566.35px" width="11" height="10" viewBox="0 0 11 10"><path d="M1 2.5L5.2 4.3V9.4L1 7.6Z" fill="#c48a55"/><path d="M5.2 4.3L9.9 2.5V7.6L5.2 9.4Z" fill="#8c6234"/><path d="M1 2.5L5.6 0.6L9.9 2.5L5.2 4.3Z" fill="#d6ab76"/><path d="M3.2 1.5L7.7 3.4" stroke="#efd9b0" stroke-width="0.9"/></svg><div style="position:absolute;left:463.8px;top:560.95px;font-size:11px;line-height:22px;font-weight:400;color:#4a4a4a;letter-spacing:-0.2px;white-space:nowrap;">Packaging</div><div style="position:absolute;left:535px;top:555.45px;font-size:11px;line-height:22px;font-weight:400;color:#4a4a4a;letter-spacing:-0.15px;white-space:nowrap;width:78px;overflow:hidden">Fatima Al-Zahrani</div><div style="position:absolute;left:535px;top:571.35px;font-size:8.6px;line-height:17.2px;font-weight:400;color:#999;letter-spacing:0.25px;white-space:nowrap;width:73px;overflow:hidden">+966 55 789 0123</div><div style="position:absolute;left:623.8px;top:560.95px;font-size:11px;line-height:22px;font-weight:400;color:#4a4a4a;letter-spacing:-0.3px;white-space:nowrap;">Monthly Billing</div><div style="position:absolute;left:771.8px;top:564.45px;width:46px;height:15px;border-radius:8px;background:#e7ebed;color:#444;font-size:9px;line-height:15px;text-align:center;letter-spacing:-0.1px;-webkit-text-stroke-width:0.1px">Dormant</div><div style="position:absolute;left:845.5px;top:560.95px;font-size:11px;line-height:22px;font-weight:400;color:#4a4a4a;letter-spacing:-0.1px;white-space:nowrap;">15,&#952;&#952;&#952; SAR</div><div style="position:absolute;left:958.40px;top:571.05px;width:1.8px;height:1.8px;border-radius:50%;background:#808080"></div><div style="position:absolute;left:961.30px;top:571.05px;width:1.8px;height:1.8px;border-radius:50%;background:#808080"></div><div style="position:absolute;left:964.20px;top:571.05px;width:1.8px;height:1.8px;border-radius:50%;background:#808080"></div><div style="position:absolute;left:217.7px;top:631.1000000000001px;width:782.3px;height:1px;box-sizing:border-box;background:#ededed"></div><div style="position:absolute;left:227.5px;top:605.95px;width:11px;height:11px;box-sizing:border-box;border:1px solid #ebebeb;border-radius:2.5px;background:#fff"></div><svg style="position:absolute;left:247.6px;top:599.6500000000001px" width="23" height="24" viewBox="0 0 23 24"><path d="M5.4 1.6 Q11 -0.2 16.7 1.6 V9.8 Q16.7 13 11 14.4 Q5.4 13 5.4 9.8Z" fill="#c8232f"/><path d="M7.5 4.6 L11 3.6 L14.6 4.6 M7.5 7.2 L11 6.2 L14.6 7.2 M7.5 9.8 L11 8.8 L14.6 9.8" stroke="#fff" stroke-width="0.9" fill="none"/><path d="M1.2 17.6 h1.5 M4.5 16.6 v2 h4 M10 17.2 h3 v1.4 M15 16.2 v2.4 h3 M20 16 v2.6" stroke="#3a3a4a" stroke-width="0.9" fill="none"/><path d="M5.5 22 h11" stroke="#444" stroke-width="0.8" stroke-dasharray="1.2 0.8"/></svg><div style="position:absolute;left:279px;top:600.65px;font-size:11px;line-height:22px;font-weight:400;color:#4a4a4a;letter-spacing:-0.25px;white-space:nowrap;">Prophet's Treasure Jewelry</div><svg style="position:absolute;left:451.5px;top:606.05px" width="11" height="10" viewBox="0 0 11 10"><path d="M1 2.5L5.2 4.3V9.4L1 7.6Z" fill="#c48a55"/><path d="M5.2 4.3L9.9 2.5V7.6L5.2 9.4Z" fill="#8c6234"/><path d="M1 2.5L5.6 0.6L9.9 2.5L5.2 4.3Z" fill="#d6ab76"/><path d="M3.2 1.5L7.7 3.4" stroke="#efd9b0" stroke-width="0.9"/></svg><div style="position:absolute;left:463.8px;top:600.65px;font-size:11px;line-height:22px;font-weight:400;color:#4a4a4a;letter-spacing:-0.2px;white-space:nowrap;">Packaging</div><div style="position:absolute;left:535px;top:595.15px;font-size:11px;line-height:22px;font-weight:400;color:#4a4a4a;letter-spacing:-0.15px;white-space:nowrap;width:78px;overflow:hidden">Khalid Al-Mutairi</div><div style="position:absolute;left:535px;top:611.05px;font-size:8.6px;line-height:17.2px;font-weight:400;color:#999;letter-spacing:0.25px;white-space:nowrap;width:73px;overflow:hidden">+966 55 890 1234</div><div style="position:absolute;left:623.8px;top:600.65px;font-size:11px;line-height:22px;font-weight:400;color:#4a4a4a;letter-spacing:-0.3px;white-space:nowrap;">Due on Receipt</div><div style="position:absolute;left:773.05px;top:604.1500000000001px;width:43.5px;height:15px;border-radius:8px;background:#e7f7e6;color:#4caf50;font-size:9px;line-height:15px;text-align:center;letter-spacing:-0.1px;-webkit-text-stroke-width:0.1px">Verified</div><div style="position:absolute;left:845.5px;top:600.65px;font-size:11px;line-height:22px;font-weight:400;color:#4a4a4a;letter-spacing:-0.1px;white-space:nowrap;">15,&#952;&#952;&#952; SAR</div><div style="position:absolute;left:958.40px;top:610.75px;width:1.8px;height:1.8px;border-radius:50%;background:#808080"></div><div style="position:absolute;left:961.30px;top:610.75px;width:1.8px;height:1.8px;border-radius:50%;background:#808080"></div><div style="position:absolute;left:964.20px;top:610.75px;width:1.8px;height:1.8px;border-radius:50%;background:#808080"></div><div style="position:absolute;left:217.7px;top:670.8000000000001px;width:782.3px;height:1px;box-sizing:border-box;background:#ededed"></div><div style="position:absolute;left:227.5px;top:645.65px;width:11px;height:11px;box-sizing:border-box;border:1px solid #ebebeb;border-radius:2.5px;background:#fff"></div><svg style="position:absolute;left:247.6px;top:640.35px" width="23" height="23" viewBox="0 0 23 23"><circle cx="11.3" cy="11.2" r="11.2" fill="#0d0d0d"/><circle cx="11" cy="11.2" r="8.2" fill="#c81e28"/><circle cx="14.2" cy="11.2" r="7" fill="#0d0d0d"/><path d="M16.6 6.6 A5.6 5.6 0 1 0 16.6 15.8" stroke="#fff" stroke-width="1" fill="none"/><path d="M16.6 6.6 L15.8 9 L19.6 9.6 M16.6 15.8 L15.8 13.4 L19.6 12.8" stroke="#fff" stroke-width="0.6" fill="none"/><rect x="13.2" y="10.2" width="6.6" height="1.1" fill="#e8e8e8"/><rect x="13.6" y="11.8" width="5.8" height="0.7" fill="#d03030"/></svg><div style="position:absolute;left:279px;top:640.35px;font-size:11px;line-height:22px;font-weight:400;color:#4a4a4a;letter-spacing:-0.25px;white-space:nowrap;">Desert Star Sports</div><svg style="position:absolute;left:451.5px;top:645.75px" width="11" height="10" viewBox="0 0 11 10"><path d="M1 2.5L5.2 4.3V9.4L1 7.6Z" fill="#c48a55"/><path d="M5.2 4.3L9.9 2.5V7.6L5.2 9.4Z" fill="#8c6234"/><path d="M1 2.5L5.6 0.6L9.9 2.5L5.2 4.3Z" fill="#d6ab76"/><path d="M3.2 1.5L7.7 3.4" stroke="#efd9b0" stroke-width="0.9"/></svg><div style="position:absolute;left:463.8px;top:640.35px;font-size:11px;line-height:22px;font-weight:400;color:#4a4a4a;letter-spacing:-0.2px;white-space:nowrap;">Packaging</div><div style="position:absolute;left:535px;top:634.85px;font-size:11px;line-height:22px;font-weight:400;color:#4a4a4a;letter-spacing:-0.15px;white-space:nowrap;width:78px;overflow:hidden">Tariq Al-Rashid</div><div style="position:absolute;left:535px;top:650.75px;font-size:8.6px;line-height:17.2px;font-weight:400;color:#999;letter-spacing:0.25px;white-space:nowrap;width:73px;overflow:hidden">+966 55 678 9012</div><div style="position:absolute;left:623.8px;top:640.35px;font-size:11px;line-height:22px;font-weight:400;color:#4a4a4a;letter-spacing:-0.3px;white-space:nowrap;">Installment Payments</div><div style="position:absolute;left:766.8px;top:643.85px;width:56px;height:15px;border-radius:8px;background:#fbe9e7;color:#7a3b32;font-size:9px;line-height:15px;text-align:center;letter-spacing:-0.1px;-webkit-text-stroke-width:0.1px">Blacklisted</div><div style="position:absolute;left:845.5px;top:640.35px;font-size:11px;line-height:22px;font-weight:400;color:#4a4a4a;letter-spacing:-0.1px;white-space:nowrap;">75,&#952;&#952;&#952; SAR</div><div style="position:absolute;left:958.40px;top:650.45px;width:1.8px;height:1.8px;border-radius:50%;background:#808080"></div><div style="position:absolute;left:961.30px;top:650.45px;width:1.8px;height:1.8px;border-radius:50%;background:#808080"></div><div style="position:absolute;left:964.20px;top:650.45px;width:1.8px;height:1.8px;border-radius:50%;background:#808080"></div><div style="position:absolute;left:230.6px;top:683.50px;font-size:10.2px;line-height:20.4px;font-weight:400;color:#222;letter-spacing:-0.3px;white-space:nowrap;-webkit-text-stroke:0.2px #222;">Page 1 of 10</div><div style="position:absolute;left:880.5px;top:683.2px;width:58px;height:19.3px;box-sizing:border-box;border:1px solid #e8e8e8;border-radius:10px;background:#fff"></div><div style="position:absolute;left:891.8px;top:684.00px;font-size:9px;line-height:18px;font-weight:400;color:#333;letter-spacing:0px;white-space:nowrap;-webkit-text-stroke:0.2px #333;">Previews</div><div style="position:absolute;left:947.2px;top:683.2px;width:41.4px;height:19.3px;box-sizing:border-box;border:1px solid #e8e8e8;border-radius:10px;background:#fff"></div><div style="position:absolute;left:958.5px;top:684.00px;font-size:9px;line-height:18px;font-weight:400;color:#333;letter-spacing:0.3px;white-space:nowrap;-webkit-text-stroke:0.2px #333;">Next</div>
</div></body></html>
